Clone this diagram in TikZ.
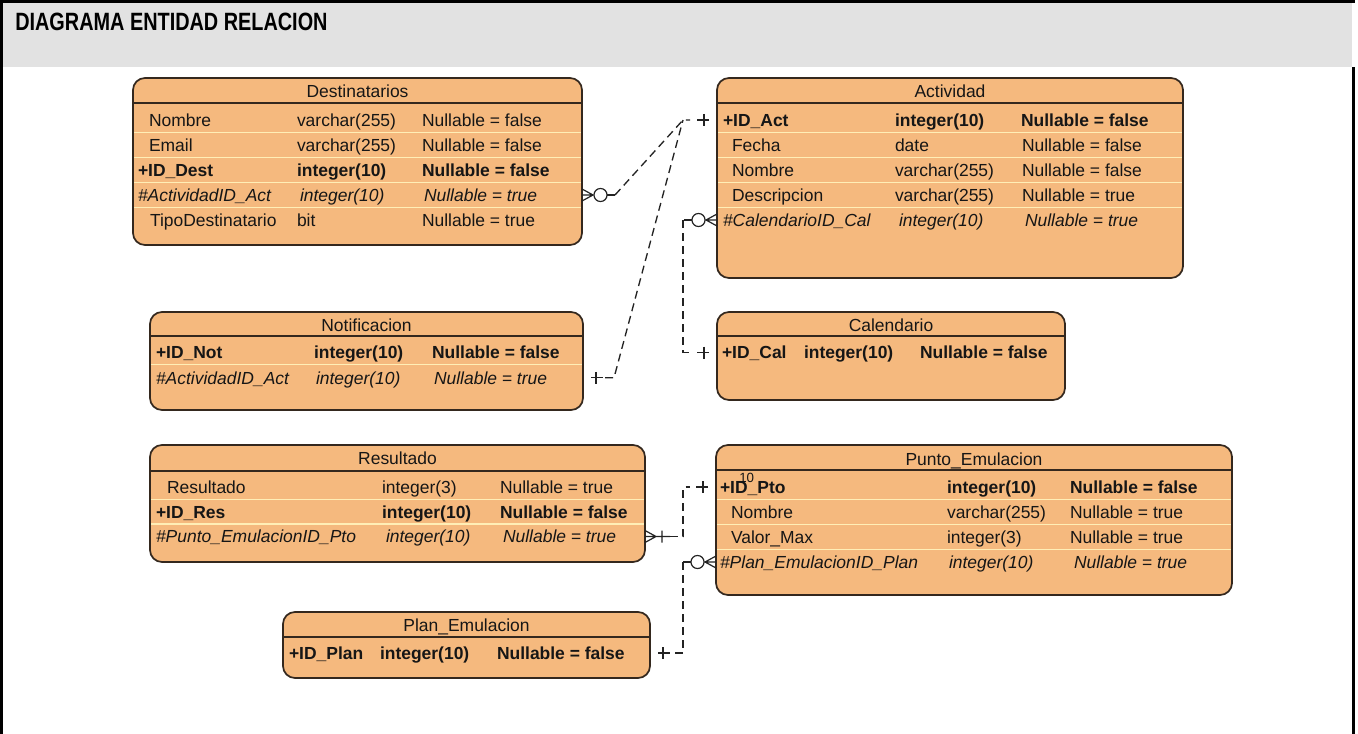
\documentclass[tikz,border=0pt]{standalone}
\usepackage{fontspec}
\setmainfont{Liberation Sans}
\usetikzlibrary{calc}

\definecolor{entfill}{RGB}{245,185,126}
\definecolor{entline}{RGB}{52,40,30}
\definecolor{rowline}{RGB}{255,238,182}
\definecolor{band}{RGB}{226,226,226}
\definecolor{ink}{RGB}{22,22,22}
\definecolor{wire}{RGB}{35,35,35}

\newcommand\cellfont{\fontsize{13.1pt}{15pt}\selectfont}
\newcommand\headfont{\fontsize{14.9pt}{17pt}\selectfont\bfseries}

% one table row: prefix, baseline y, style, then three (x, text) columns
\newcommand\entrow[9]{%
  \node[#3] (#1a) at (#4,#2) {#5};
  \node[#3] (#1b) at (#6,#2) {#7};
  \node[#3] (#1c) at (#8,#2) {#9};}

\tikzset{
  manyzero/.pic={
    \draw[notation] (0,-6) -- (11,0) -- (0,6) (0,0) -- (11,0);
    \draw[notation] (18.5,0) circle[radius=4.9pt];
    \draw[notation] (25,0) -- (33,0);
  },
  manyone/.pic={
    \draw[notation] (0,-6) -- (11,0) -- (0,6) (0,0) -- (25,0) (17,-6) -- (17,6);
  },
  onebar/.pic={
    \draw[notation] (8,0) -- (20,0) (13,-6) -- (13,6);
  }
}

\begin{document}
\begin{tikzpicture}[x=0.75pt,y=-0.75pt,
  ent/.style={draw=entline, line width=1.3pt, fill=entfill, rounded corners=9pt,
              inner sep=0pt, outer sep=0pt},
  hline/.style={draw=entline, line width=1pt},
  rline/.style={draw=rowline, line width=1.1pt},
  cell/.style={anchor=base west, inner sep=0pt, outer sep=0pt, text=ink, font=\cellfont},
  pk/.style={cell, font=\cellfont\bfseries},
  fk/.style={cell, font=\cellfont\itshape},
  tabtitle/.style={anchor=base, inner sep=0pt, outer sep=0pt, text=ink, font=\cellfont},
  notation/.style={draw=wire, line width=0.9pt, solid},
  rel/.style={draw=wire, line width=1pt, dash pattern=on 6pt off 3.75pt}]

\useasboundingbox (0,0) rectangle (1358,734);

% page frame and heading band
\fill[band] (3,3) rectangle (1352,67);
\fill[black] (0,0) rectangle (1355,3);
\fill[black] (0,0) rectangle (3,734);
\fill[black] (1352,67) rectangle (1355,734);
\node[anchor=base west, inner sep=0pt, font=\headfont, text=black] (heading) at (15,30.7)
  {\scalebox{1}[1.26]{DIAGRAMA ENTIDAD RELACION}};

% ---------- Destinatarios ----------
\node[ent, minimum width=336.75pt, minimum height=125.25pt] (dest) at (357.5,161.5) {};
\foreach \yy in {132.5,157.5,182.5,207.5} \draw[rline] (134,\yy) -- (581,\yy);
\draw[hline] (133,103) -- (582,103);
\node[tabtitle] (destT) at (357.5,98) {Destinatarios};
\entrow{dest1}{126.3}{cell}{149}{Nombre}{297}{varchar(255)}{422}{Nullable = false}
\entrow{dest2}{151.3}{cell}{149}{Email}{297}{varchar(255)}{422}{Nullable = false}
\entrow{dest3}{176.3}{pk}{138}{+ID\_Dest}{297}{integer(10)}{422}{Nullable = false}
\entrow{dest4}{201.3}{fk}{138}{\#ActividadID\_Act}{300}{integer(10)}{424}{Nullable = true}
\entrow{dest5}{226.3}{cell}{150}{TipoDestinatario}{297}{bit}{422}{Nullable = true}
\coordinate (dest-fk) at (357.5,195);

% ---------- Actividad ----------
\node[ent, minimum width=349.5pt, minimum height=150pt] (act) at (950,178) {};
\foreach \yy in {132.5,157.5,182.5,207.5} \draw[rline] (718,\yy) -- (1182,\yy);
\draw[hline] (717,103) -- (1183,103);
\node[tabtitle] (actT) at (950,98) {Actividad};
\entrow{act1}{126.3}{pk}{723}{+ID\_Act}{895}{integer(10)}{1021}{Nullable = false}
\entrow{act2}{151.3}{cell}{732}{Fecha}{895}{date}{1022}{Nullable = false}
\entrow{act3}{176.3}{cell}{732}{Nombre}{895}{varchar(255)}{1022}{Nullable = false}
\entrow{act4}{201.3}{cell}{732}{Descripcion}{895}{varchar(255)}{1022}{Nullable = true}
\entrow{act5}{226.3}{fk}{723}{\#CalendarioID\_Cal}{899}{integer(10)}{1025}{Nullable = true}
\coordinate (act-pk) at (950,120);
\coordinate (act-fk) at (950,220);

% ---------- Notificacion ----------
\node[ent, minimum width=324.75pt, minimum height=73.5pt] (noti) at (366.5,361) {};
\draw[rline] (151,364.5) -- (582,364.5);
\draw[hline] (150,336) -- (583,336);
\node[tabtitle] (notiT) at (366.5,331) {Notificacion};
\entrow{noti1}{358.3}{pk}{156}{+ID\_Not}{314}{integer(10)}{432}{Nullable = false}
\entrow{noti2}{384}{fk}{156}{\#ActividadID\_Act}{316}{integer(10)}{434}{Nullable = true}
\coordinate (noti-fk) at (366.5,377.8);

% ---------- Calendario ----------
\node[ent, minimum width=261pt, minimum height=66pt] (cal) at (891,356) {};
\draw[hline] (717,336) -- (1065,336);
\node[tabtitle] (calT) at (891,331) {Calendario};
\entrow{cal1}{358.3}{pk}{722}{+ID\_Cal}{804}{integer(10)}{920}{Nullable = false}
\coordinate (cal-pk) at (891,352.5);

% ---------- Resultado ----------
\node[ent, minimum width=371.25pt, minimum height=87.75pt] (res) at (397.5,503.5) {};
\foreach \yy in {499.5,524} \draw[rline] (151,\yy) -- (644,\yy);
\draw[hline] (150,471) -- (645,471);
\node[tabtitle] (resT) at (397.5,464.5) {Resultado};
\entrow{res1}{493.3}{cell}{167}{Resultado}{382}{integer(3)}{500}{Nullable = true}
\entrow{res2}{518.3}{pk}{156}{+ID\_Res}{382}{integer(10)}{500}{Nullable = false}
\entrow{res3}{542.8}{fk}{156}{\#Punto\_EmulacionID\_Pto}{386}{integer(10)}{503}{Nullable = true}
\coordinate (res-fk) at (397.5,536.5);

% ---------- Punto_Emulacion ----------
\node[ent, minimum width=387pt, minimum height=112.5pt] (pto) at (974,520) {};
\foreach \yy in {499.5,524.5,549.5} \draw[rline] (717,\yy) -- (1231,\yy);
\draw[hline] (716,470) -- (1232,470);
\node[tabtitle] (ptoT) at (974,465) {Punto\_Emulacion};
\entrow{pto1}{493.3}{pk}{720}{+ID\_Pto}{947}{integer(10)}{1070}{Nullable = false}
\entrow{pto2}{518.3}{cell}{731}{Nombre}{947}{varchar(255)}{1070}{Nullable = true}
\entrow{pto3}{543.3}{cell}{731}{Valor\_Max}{947}{integer(3)}{1070}{Nullable = true}
\entrow{pto4}{568.3}{fk}{720}{\#Plan\_EmulacionID\_Plan}{949}{integer(10)}{1074}{Nullable = true}
\node[anchor=base west, inner sep=0pt, text=ink, font=\fontsize{10pt}{12pt}\selectfont] (ptomark) at (739,482) {10};
\coordinate (pto-pk) at (974,487);
\coordinate (pto-fk) at (974,562);

% ---------- Plan_Emulacion ----------
\node[ent, minimum width=275.25pt, minimum height=49.5pt] (plan) at (466.5,645) {};
\draw[hline] (283,637) -- (650,637);
\node[tabtitle] (planT) at (466.5,631) {Plan\_Emulacion};
\entrow{plan1}{659.3}{pk}{289}{+ID\_Plan}{380}{integer(10)}{497}{Nullable = false}
\coordinate (plan-pk) at (466.5,653);

% ---------- relationships ----------
% Destinatarios -> Actividad
\coordinate (c1a) at (dest.east |- dest-fk);
\coordinate (c1b) at (act.west |- act-pk);
\pic at (c1a) {manyzero};
\pic[xscale=-1] at (c1b) {onebar};
\draw[rel] ($(c1a)+(33,0)$) -- ($(c1b)+(-34,0)$) -- ($(c1b)+(-27,0)$);

% Notificacion -> Actividad
\coordinate (c2a) at (noti.east |- noti-fk);
\pic at (c2a) {onebar};
\draw[rel] ($(c2a)+(22,0)$) -- ($(c2a)+(31,0)$) -- ($(c1b)+(-34,0)$);

% Actividad -> Calendario
\coordinate (c3a) at (act.west |- act-fk);
\coordinate (c3b) at (cal.west |- cal-pk);
\pic[xscale=-1] at (c3a) {manyzero};
\pic[xscale=-1] at (c3b) {onebar};
\draw[rel] ($(c3a)+(-34,0)$) -- ($(c3b)+(-34,0)$) -- ($(c3b)+(-27,0)$);

% Resultado -> Punto_Emulacion
\coordinate (c4a) at (res.east |- res-fk);
\coordinate (c4b) at (pto.west |- pto-pk);
\pic at (c4a) {manyone};
\pic[xscale=-1] at (c4b) {onebar};
\draw[rel] ($(c4a)+(25,0)$) -- ($(c4a)+(38,0)$) -- ($(c4b)+(-33,0)$) -- ($(c4b)+(-26,0)$);

% Punto_Emulacion -> Plan_Emulacion
\coordinate (c5a) at (pto.west |- pto-fk);
\coordinate (c5b) at (plan.east |- plan-pk);
\pic[xscale=-1] at (c5a) {manyzero};
\pic at (c5b) {onebar};
\draw[rel] ($(c5a)+(-33,0)$) -- ($(c5b)+(33,0)$) -- ($(c5b)+(25,0)$);

\end{tikzpicture}
\end{document}
